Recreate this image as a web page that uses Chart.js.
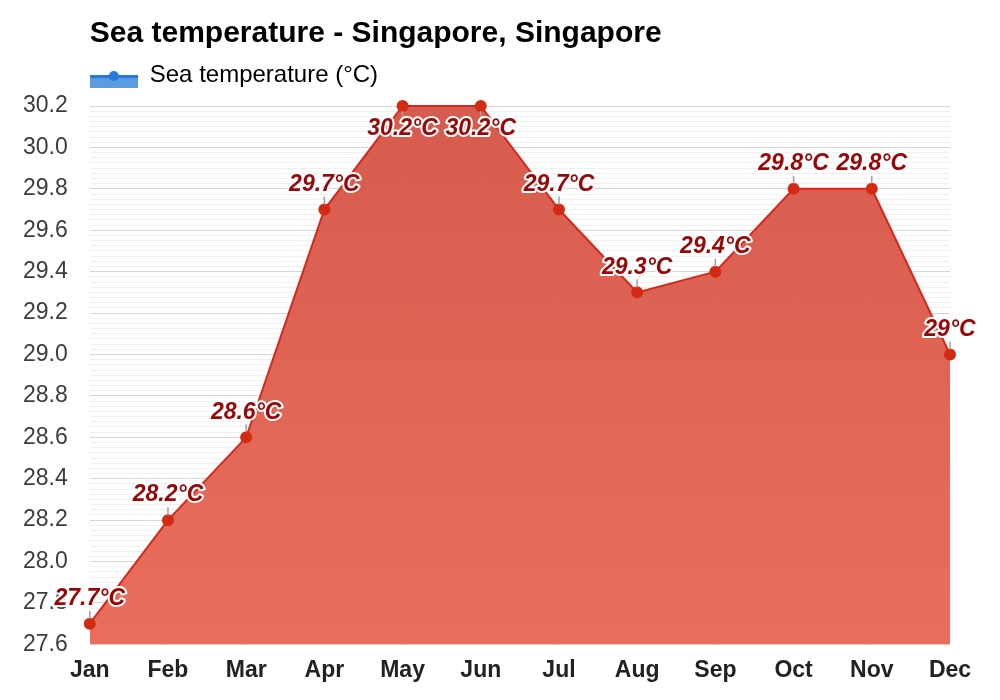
<!DOCTYPE html>
<html>
<head>
<meta charset="utf-8">
<title>Sea temperature - Singapore, Singapore</title>
<script src="https://cdn.jsdelivr.net/npm/chart.js@4.4.1/dist/chart.umd.min.js"></script>
<style>
  html, body { margin: 0; padding: 0; background: #fff; }
  #wrap { width: 1000px; height: 700px; position: relative; }
</style>
</head>
<body>
<div id="wrap"><canvas id="seaChart"></canvas></div>
<script>
const months = ["Jan", "Feb", "Mar", "Apr", "May", "Jun", "Jul", "Aug", "Sep", "Oct", "Nov", "Dec"];
const seaTemps = [27.7, 28.2, 28.6, 29.7, 30.2, 30.2, 29.7, 29.3, 29.4, 29.8, 29.8, 29.0];
const yTicks = [27.6, 27.8, 28.0, 28.2, 28.4, 28.6, 28.8, 29.0, 29.2, 29.4, 29.6, 29.8, 30.0, 30.2];
const seriesName = "Sea temperature (°C)";

const FONT = 'Arial, "Liberation Sans", sans-serif';

function isMajor(v) {
    return yTicks.some(t => Math.abs(t - v) < 1e-6);
}

// legend icon: blue band with line and dot
function makeLegendIcon() {
    const c = document.createElement("canvas");
    c.width = 48;
    c.height = 26;
    const g = c.getContext("2d");
    g.fillStyle = "rgb(90,155,225)";
    g.fillRect(0, 15, 48, 11);
    g.fillStyle = "rgb(38,122,216)";
    g.fillRect(0, 13, 48, 3);
    g.beginPath();
    g.arc(24, 14, 5, 0, Math.PI * 2);
    g.fill();
    return c;
}
const legendIcon = makeLegendIcon();

// extra space under the legend
const legendSpacer = {
    id: "legendSpacer",
    afterInit(chart) {
        const fit = chart.legend.fit;
        chart.legend.fit = function () {
            fit.call(this);
            this.height += 9;
        };
    }
};

// value labels above / below each point
const valueLabels = {
    id: "valueLabels",
    afterDraw(chart) {
        const ctx = chart.ctx;
        const meta = chart.getDatasetMeta(0);
        const area = chart.chartArea;
        ctx.save();
        ctx.font = "italic bold 23px " + FONT;
        ctx.textAlign = "center";
        ctx.textBaseline = "middle";
        meta.data.forEach((pt, i) => {
            const text = seaTemps[i] + "°C";
            const below = pt.y - 40 < area.top;
            const ty = below ? pt.y + 23 : pt.y - 25;
            ctx.strokeStyle = "#a0a0a0";
            ctx.lineWidth = 1.5;
            ctx.beginPath();
            if (below) {
                ctx.moveTo(pt.x, pt.y + 5);
                ctx.lineTo(pt.x, pt.y + 12);
            } else {
                ctx.moveTo(pt.x, pt.y - 5);
                ctx.lineTo(pt.x, pt.y - 13);
            }
            ctx.stroke();
            ctx.lineJoin = "round";
            ctx.lineWidth = 4;
            ctx.strokeStyle = "#fff";
            ctx.strokeText(text, pt.x, ty);
            ctx.fillStyle = "#980808";
            ctx.fillText(text, pt.x, ty);
        });
        ctx.restore();
    }
};

const ctx = document.getElementById("seaChart").getContext("2d");
new Chart(ctx, {
    type: "line",
    data: {
        labels: months,
        datasets: [{
            label: seriesName,
            data: seaTemps,
            fill: "start",
            backgroundColor: (c) => {
                const area = c.chart.chartArea;
                if (!area) return "rgba(222,90,75,0.92)";
                const g = c.chart.ctx.createLinearGradient(0, area.top, 0, area.bottom);
                g.addColorStop(0, "rgba(211,78,64,0.92)");
                g.addColorStop(1, "rgba(231,98,77,0.92)");
                return g;
            },
            borderColor: "#d8271a",
            borderWidth: 2,
            tension: 0,
            pointRadius: 6,
            pointHoverRadius: 6,
            pointBackgroundColor: "#d42a14",
            pointBorderWidth: 0,
            clip: 10
        }]
    },
    options: {
        responsive: true,
        maintainAspectRatio: false,
        animation: false,
        layout: {
            padding: { left: 1, right: 50, top: 0, bottom: 4 }
        },
        plugins: {
            title: {
                display: true,
                text: "Sea temperature - Singapore, Singapore",
                align: "start",
                fullSize: false,
                color: "#000",
                font: { family: FONT, size: 30, weight: "bold" },
                padding: { top: 16, bottom: 11 }
            },
            legend: {
                display: true,
                position: "top",
                align: "start",
                fullSize: false,
                labels: {
                    usePointStyle: true,
                    pointStyleWidth: 48,
                    padding: 0,
                    color: "#333",
                    font: { family: FONT, size: 24 },
                    generateLabels: () => [{
                        text: seriesName,
                        pointStyle: legendIcon,
                        fillStyle: "rgb(90,155,225)",
                        strokeStyle: "rgb(38,122,216)",
                        lineWidth: 0,
                        datasetIndex: 0
                    }]
                }
            },
            tooltip: { enabled: false }
        },
        scales: {
            x: {
                offset: false,
                z: 1,
                grid: {
                    color: "rgba(255,255,255,0.22)",
                    drawTicks: false
                },
                border: { display: false },
                ticks: {
                    padding: 12,
                    color: "#222",
                    font: { family: FONT, size: 23, weight: "bold" }
                }
            },
            y: {
                min: 27.6,
                max: 30.2,
                grid: {
                    color: (c) => isMajor(c.tick.value) ? "#d6d6d6" : "#f1f1f1",
                    drawTicks: false
                },
                border: { display: false },
                ticks: {
                    stepSize: 0.025,
                    autoSkip: false,
                    padding: 22,
                    color: "#3c3c3c",
                    font: { family: FONT, size: 23 },
                    callback: (value) => isMajor(value) ? value.toFixed(1) : ""
                }
            }
        }
    },
    plugins: [legendSpacer, valueLabels]
});
</script>
</body>
</html>
